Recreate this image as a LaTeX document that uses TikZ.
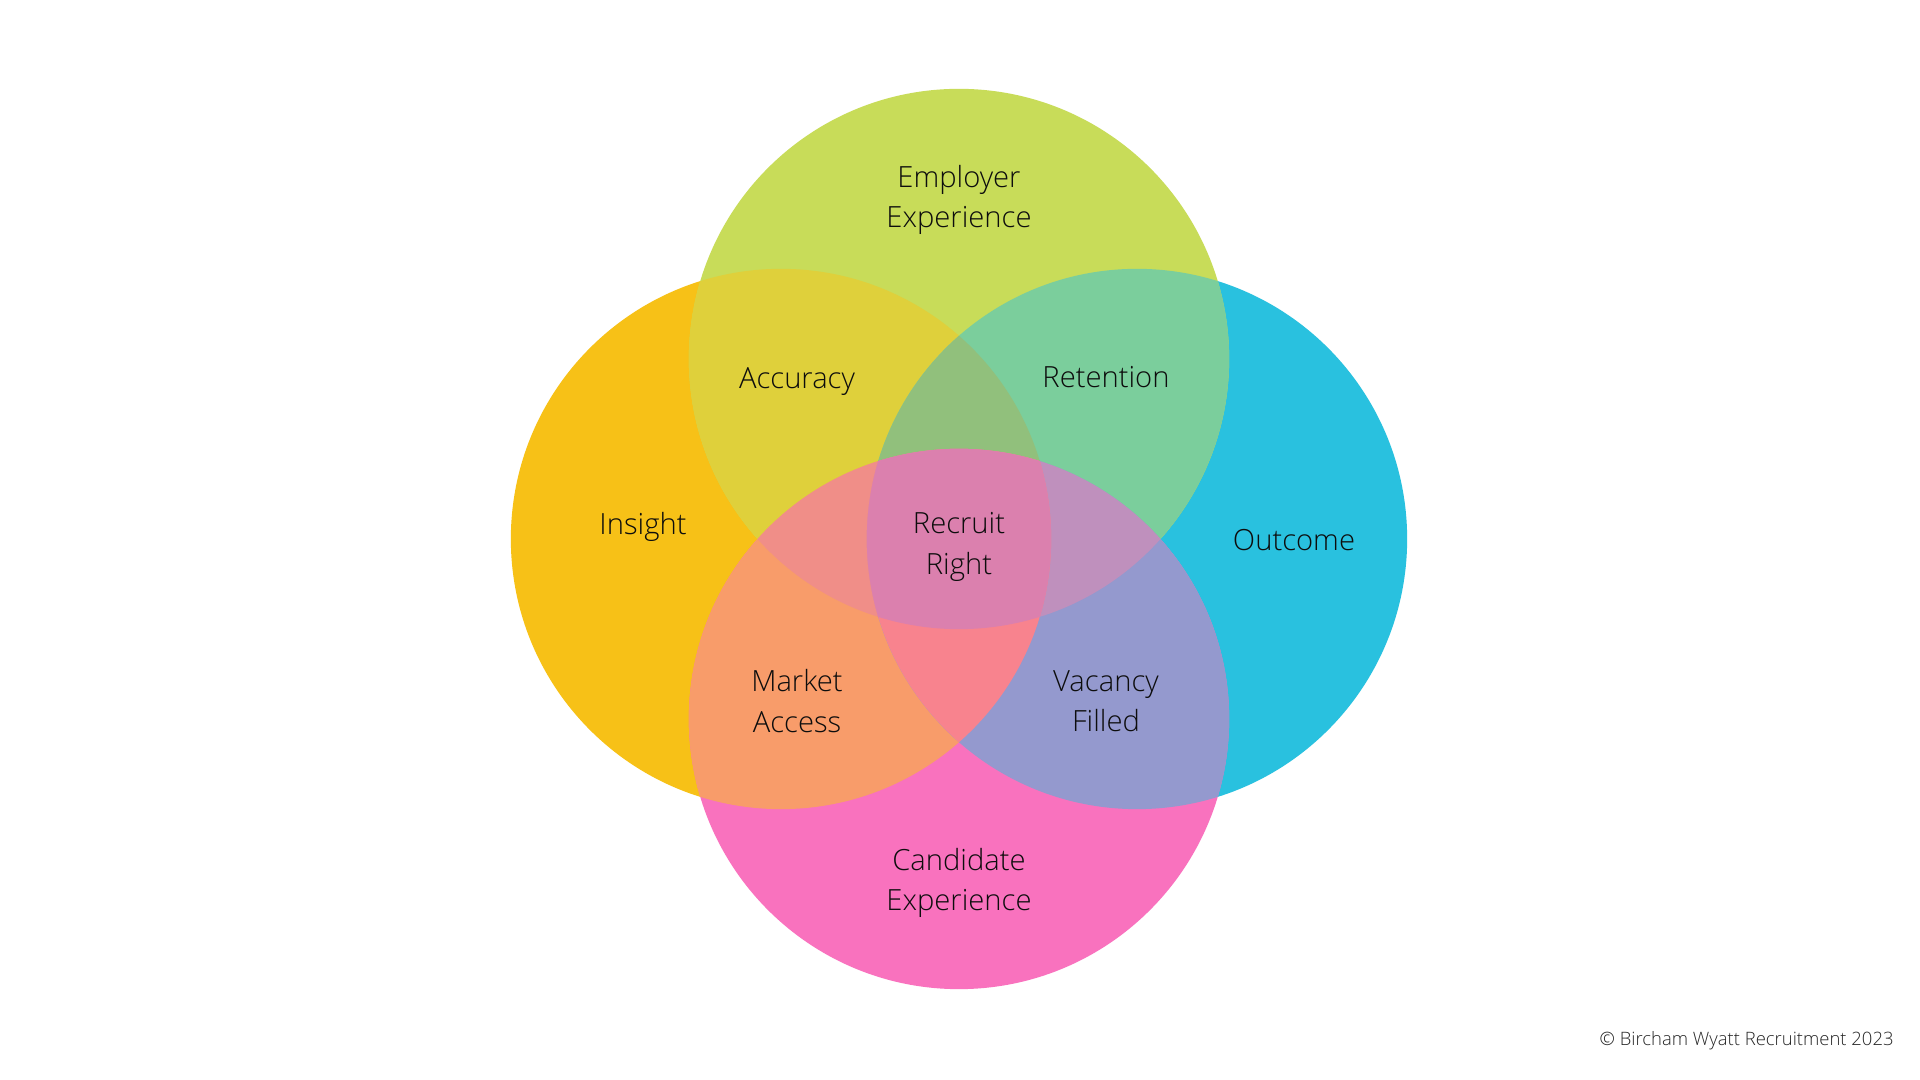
\documentclass[tikz,border=0pt]{standalone}
\usepackage{fontspec}
\setmainfont{Open Sans Light}
\usetikzlibrary{calc}
\definecolor{cyel}{HTML}{F7C117}
\definecolor{cblu}{HTML}{29C1DF}
\definecolor{cgrn}{HTML}{C8DC59}
\definecolor{cpnk}{HTML}{F972BE}
\definecolor{cyg}{HTML}{DFD03B}
\definecolor{cgb}{HTML}{7BCE9C}
\definecolor{cyp}{HTML}{F89C6A}
\definecolor{cbp}{HTML}{9499CE}
\definecolor{cygb}{HTML}{91C07C}
\definecolor{cygp}{HTML}{F08E88}
\definecolor{cgbp}{HTML}{BF90BD}
\definecolor{cybp}{HTML}{F8838E}
\definecolor{call}{HTML}{DB80AE}
\def\vennr{2.7cm}
\def\lens[#1](#2)(#3){\begin{scope}\clip (#2) circle (\vennr); \fill[#1] (#3) circle (\vennr);\end{scope}}
\def\tri[#1](#2)(#3)(#4){\begin{scope}\clip (#2) circle (\vennr); \clip (#3) circle (\vennr); \fill[#1] (#4) circle (\vennr);\end{scope}}
\tikzset{lbl/.style={font=\fontsize{8.3}{11.5}\selectfont, text=black!95, align=center}}

\begin{document}
\begin{tikzpicture}[x=0.01cm, y=-0.01cm]
		%%%%% START %%%%%
		
		\useasboundingbox[fill=white] (0, 0) rectangle (1920, 1080);
		
		\coordinate (yel) at (781, 539);
		\coordinate (blu) at (1137, 539);
		\coordinate (grn) at (959, 359);
		\coordinate (pnk) at (959, 719);
		
		\fill[cyel] (yel) circle (\vennr);
		\fill[cblu] (blu) circle (\vennr);
		\fill[cgrn] (grn) circle (\vennr);
		\fill[cpnk] (pnk) circle (\vennr);
		
		\lens[cyg](yel)(grn);
		\lens[cgb](grn)(blu);
		\lens[cyp](yel)(pnk);
		\lens[cbp](blu)(pnk);
		
		\tri[cygb](yel)(grn)(blu);
		\tri[cygp](yel)(grn)(pnk);
		\tri[cgbp](grn)(blu)(pnk);
		\tri[cybp](yel)(blu)(pnk);
		
		\begin{scope}
			\clip (yel) circle (\vennr);
			\clip (grn) circle (\vennr);
			\clip (blu) circle (\vennr);
			\fill[call] (pnk) circle (\vennr);
		\end{scope}
		
		\node[lbl] (employer) at (959, 200) {Employer\\Experience};
		\node[lbl] (accuracy) at (797, 382) {Accuracy};
		\node[lbl] (retention) at (1106, 377) {Retention};
		\node[lbl] (insight) at (643, 527) {Insight};
		\node[lbl] (recruit) at (959, 547) {Recruit\\Right};
		\node[lbl] (outcome) at (1294, 540) {Outcome};
		\node[lbl] (market) at (797, 701) {Market\\Access};
		\node[lbl] (vacancy) at (1106, 701) {Vacancy\\Filled};
		\node[lbl] (candidate) at (959, 883) {Candidate\\Experience};
		
		\node[font=\fontsize{5.25}{6}\selectfont, text=black!85, anchor=east] (copyright) at (1906, 1041) {© Bircham Wyatt Recruitment 2023};
		
		%%%%% END %%%%%
	\end{tikzpicture}
\end{document}
